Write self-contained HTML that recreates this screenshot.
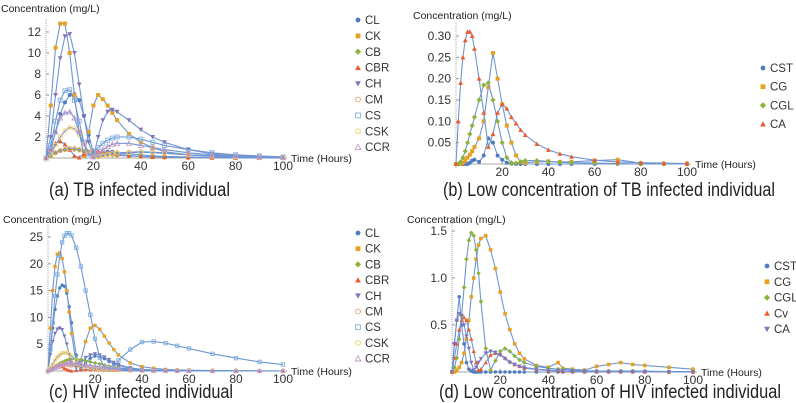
<!DOCTYPE html>
<html><head><meta charset="utf-8"><style>
html,body{margin:0;padding:0;background:#fff;}
svg{display:block;font-family:"Liberation Sans",sans-serif;}
.tick{font-size:12px;fill:#333;}
.axt{font-size:10.5px;fill:#222;}
.leg{font-size:11.5px;fill:#333;}
.cap{font-size:19px;fill:#222;}
</style></head><body>
<svg id="fig" width="796" height="403" viewBox="0 0 796 403"></svg>
<script>
// ---------- Panel (a) data ----------
const aTimes=[0,2,4,6,8,10,12,14,16,18,20,22,24,26,28,30,35,40,45,50,60,70,80,90,100];
const aCL=[0,0.8,2.5,4.2,5.3,6,6.1,5.5,4,2.2,0.5,0.3,0.5,0.6,0.6,0.5,0.4,0.3,0.2,0.15,0.1,0.05,0.03,0.02,0.01];
const aCK=[0,5,10.5,12.8,12.8,10,6,2.5,0.2,2.5,5,6,5.6,5,4.3,3.6,2.3,1.5,1,0.6,0.3,0.15,0.08,0.05,0.03];
const aCB=[0,0.2,0.5,0.7,0.8,0.8,0.8,0.75,0.65,0.55,0.45,0.4,0.35,0.3,0.28,0.25,0.2,0.15,0.1,0.08,0.05,0.03,0.02,0.01,0.01];
const aCBR=[0,0.7,1.4,1.6,1.3,0.8,0.2,0.05,0.4,0.6,0.7,0.65,0.55,0.45,0.4,0.35,0.25,0.15,0.1,0.08,0.05,0.03,0.02,0.01,0.01];
const aCH=[0,2,6,9.5,11.6,11.8,10,7,4,1.5,0.1,2,3.6,4.4,4.6,4.4,3.6,2.7,2,1.5,0.8,0.4,0.2,0.12,0.08];
const aCM=[0,0.2,0.5,0.7,0.8,0.9,0.9,0.8,0.6,0.4,0.3,0.25,0.3,0.4,0.45,0.5,0.55,0.6,0.55,0.5,0.3,0.2,0.1,0.05,0.03];
const aCS=[0,1.2,3.5,5.5,6.4,6.5,5.5,3.5,1.5,0.2,0.5,1,1.4,1.7,1.9,2,2,1.8,1.5,1.2,0.8,0.5,0.3,0.2,0.1];
const aCSK=[0,0.4,1.2,2,2.6,2.9,2.8,2.2,1.3,0.6,0.1,0.1,0.2,0.3,0.4,0.45,0.5,0.55,0.5,0.45,0.3,0.2,0.1,0.05,0.03];
const aCCR=[0,0.8,2.5,3.8,4.3,4.4,3.8,2.5,1.3,0.4,0.1,0.4,0.8,1.1,1.3,1.4,1.4,1.2,1,0.8,0.5,0.3,0.2,0.1,0.05];
const aYTicks=[2,4,6,8,10,12];
const xTicks=[20,40,60,80,100];
// ---------- Panel (b) data ----------
const bTimes=[0,1,2,3,4,5,6,7,8,10,12,14,16,18,20,22,24,26,28,30,35,40,45,50,60,70,80,90,100];
const bCST=[0,0,0,0,0,0,0.003,0.008,0.01,0.005,0.02,0.06,0.05,0.02,0.01,0.003,0.001,0,0,0,0,0,0,0,0,0,0,0,0];
const bCG=[0,0,0,0.003,0.008,0.015,0.022,0.03,0.04,0.06,0.1,0.18,0.26,0.2,0.14,0.09,0.05,0.02,0.005,0.003,0.005,0.006,0.005,0.005,0.008,0.01,0.002,0.001,0.001];
const bCGL=[0,0,0.005,0.015,0.03,0.05,0.07,0.09,0.11,0.15,0.185,0.19,0.15,0.1,0.05,0.015,0.003,0.002,0.005,0.008,0.008,0.006,0.004,0.003,0.002,0.001,0,0,0];
const bCA=[0,0.1,0.19,0.25,0.29,0.31,0.31,0.3,0.27,0.2,0.12,0.04,0.07,0.12,0.14,0.13,0.11,0.095,0.08,0.068,0.047,0.033,0.024,0.017,0.009,0.005,0.003,0.002,0.001];
const bYTicks=[0.05,0.10,0.15,0.20,0.25,0.30];
const bYLabels=["0.05","0.10","0.15","0.20","0.25","0.30"];
// ---------- Panel (c) data ----------
const cTimes=[0,1,2,3,4,5,6,7,8,9,10,12,14,16,18,20,22,24,26,28,30,35,40,45,50,55,60,70,80,90,100];
const cCL=[0,4,8,11.5,14,15.5,16,15.8,14.5,12,9,3,0.5,1.5,2.4,2.8,2.7,2.3,1.8,1.3,1,0.5,0.3,0.2,0.1,0.05,0.03,0.02,0.01,0,0];
const cCK=[0,8,15,19.5,21.8,22,21,18.5,15,11,7,1.5,2,5.5,8,8.5,7.8,6.5,5.2,4,3,1.5,0.8,0.5,0.3,0.2,0.15,0.1,0.05,0.03,0.02];
const cCB=[0,0.2,0.5,0.8,1.1,1.4,1.6,1.8,2,2.1,2.2,2.2,2.1,1.9,1.7,1.5,1.3,1.1,0.9,0.75,0.6,0.35,0.2,0.1,0.05,0.03,0.02,0.01,0,0,0];
const cCBR=[0,0.4,0.7,0.9,1,1,0.8,0.5,0.3,0.1,0.02,0.1,0.2,0.3,0.3,0.28,0.25,0.2,0.15,0.12,0.1,0.05,0.03,0.02,0.01,0,0,0,0,0,0];
const cCH=[0,3,5.5,7,7.8,8,7.7,6.5,5,3,1.5,0.5,1.5,2.5,3,3.2,3,2.6,2.1,1.6,1.2,0.6,0.3,0.15,0.1,0.05,0.03,0.02,0.01,0,0];
const cCM=[0,0.3,0.6,0.8,1,1.1,1.2,1.2,1.2,1.1,1,0.9,0.8,0.7,0.6,0.5,0.45,0.4,0.35,0.3,0.25,0.15,0.1,0.05,0.03,0.02,0.01,0,0,0,0];
const cCS=[0,4,9,14,18,21.5,24,25.2,25.7,25.7,25.3,23,19.5,15,10.5,6,2.5,0.5,0.3,0.8,2,4,5.4,5.5,5.2,4.7,4.2,3.2,2.4,1.7,1.2];
const cCSK=[0,0.6,1.3,2,2.6,3,3.3,3.4,3.4,3.2,2.8,2,1.2,0.8,0.6,0.5,0.4,0.35,0.3,0.25,0.2,0.1,0.05,0.03,0.02,0.01,0,0,0,0,0];
const cCCR=[0,0.2,0.4,0.6,0.8,1,1.2,1.3,1.4,1.5,1.5,1.4,1.3,1.1,1,0.9,0.8,0.7,0.6,0.5,0.4,0.25,0.15,0.1,0.05,0.03,0.02,0.01,0,0,0];
const cYTicks=[5,10,15,20,25];
// ---------- Panel (d) data ----------
const dTimes=[0,1,2,3,4,5,6,7,8,9,10,11,12,14,16,18,20,22,24,26,28,30,35,40,44,46,50,55,60,65,70,75,80,90,100];
const dCST=[0,0.3,0.55,0.8,0.5,0.3,0.1,0.03,0.01,0,0,0,0,0,0,0,0,0,0,0,0,0,0,0,0,0,0,0,0,0,0,0,0,0,0];
const dCG=[0,0,0.02,0.05,0.1,0.2,0.35,0.55,0.8,1.0,1.2,1.35,1.42,1.45,1.3,1.1,0.85,0.62,0.45,0.3,0.2,0.14,0.07,0.05,0.1,0.04,0.03,0.02,0.06,0.08,0.1,0.08,0.07,0.05,0.03];
const dCGL=[0,0.05,0.15,0.35,0.6,0.9,1.2,1.4,1.48,1.45,1.3,1.05,0.75,0.25,0.02,0.12,0.22,0.25,0.22,0.17,0.13,0.1,0.06,0.04,0.03,0.03,0.02,0.015,0.01,0.01,0.01,0.01,0.01,0.005,0.005];
const dCv=[0,0.15,0.3,0.45,0.55,0.58,0.55,0.45,0.35,0.22,0.1,0.02,0.03,0.1,0.18,0.2,0.19,0.15,0.11,0.08,0.06,0.04,0.025,0.015,0.012,0.01,0.01,0.008,0.006,0.005,0.004,0.003,0.002,0.001,0.001];
const dCA=[0,0.3,0.55,0.62,0.6,0.5,0.38,0.25,0.1,0.02,0.05,0.1,0.14,0.2,0.22,0.21,0.18,0.14,0.1,0.08,0.06,0.05,0.03,0.02,0.015,0.012,0.01,0.008,0.006,0.005,0.004,0.003,0.002,0.001,0.001];
const dYTicks=[0.5,1.0,1.5];
const dYLabels=["0.5","1.0","1.5"];

const NS="http://www.w3.org/2000/svg";
const svg=document.getElementById('fig');
const LINE="#6e95d2";
function mk(tag,attrs,parent){const e=document.createElementNS(NS,tag);for(const k in attrs)e.setAttribute(k,attrs[k]);(parent||svg).appendChild(e);return e;}

function marker(g,shape,color,x,y,s){
  let e;
  const open=shape.startsWith('o');const sh=open?shape.slice(1):shape;
  const fill=open?'none':color, stroke=open?color:'none';
  if(sh==='c')e=mk('circle',{cx:x,cy:y,r:s},g);
  else if(sh==='s')e=mk('rect',{x:x-s,y:y-s,width:2*s,height:2*s},g);
  else if(sh==='d')e=mk('polygon',{points:`${x},${y-s*1.3} ${x+s*1.3},${y} ${x},${y+s*1.3} ${x-s*1.3},${y}`},g);
  else if(sh==='u')e=mk('polygon',{points:`${x},${y-s*1.2} ${x+s*1.2},${y+s} ${x-s*1.2},${y+s}`},g);
  else e=mk('polygon',{points:`${x},${y+s*1.2} ${x+s*1.2},${y-s} ${x-s*1.2},${y-s}`},g);
  e.setAttribute('fill',fill);e.setAttribute('stroke',stroke);e.setAttribute('stroke-width','0.9');
  return e;
}

function panel(cfg){
  const g=mk('g',{});
  
  
  const xs=t=>cfg.x0+(t/100)*(cfg.x1-cfg.x0);
  const ys=v=>cfg.y0-(v/cfg.ymax)*(cfg.y0-cfg.yTop);
  const xa=mk('line',{x1:cfg.x0,y1:cfg.y0,x2:cfg.x1+4,y2:cfg.y0,stroke:'#aaa','stroke-width':1},g);
  
  
  const ya=mk('line',{x1:cfg.x0,y1:cfg.y0+4,x2:cfg.x0,y2:cfg.yTop-14,stroke:'#aaa','stroke-width':1,'stroke-dasharray':'1,1'},g);
  
  
  cfg.yTicks.forEach((v,i)=>{
    const y=ys(v);
    mk('line',{x1:cfg.x0,y1:y,x2:cfg.x0+3,y2:y,stroke:'#999'},g);
    const t=mk('text',{x:cfg.x0-5,y:y+4,'text-anchor':'end',class:'tick'},g);
    t.textContent=cfg.yLabels?cfg.yLabels[i]:String(v);
    
    
  });
  xTicks.forEach(v=>{
    const x=xs(v);
    mk('line',{x1:x,y1:cfg.y0,x2:x,y2:cfg.y0-3,stroke:'#999'},g);
    const t=mk('text',{x:x,y:cfg.y0+12,'text-anchor':'middle',class:'tick'},g);
    t.textContent=String(v);
    
    
  });
  const yl=mk('text',{x:cfg.ylx,y:cfg.yly,class:'axt'},g);
  yl.textContent='Concentration (mg/L)';
  
  
  const xl=mk('text',{x:cfg.x1+8,y:cfg.y0+4,class:'axt'},g);
  xl.textContent='Time (Hours)';
  
  
  cfg.series.forEach(s=>{
    const sg=mk('g',{},g);
    
    
    const pts=cfg.times.map((t,i)=>xs(t).toFixed(1)+','+ys(s.vals[i]).toFixed(1)).join(' ');
    const pl=mk('polyline',{points:pts,fill:'none',stroke:LINE,'stroke-width':1.1,'stroke-linejoin':'round'},sg);
    
    
    cfg.times.forEach((t,i)=>{
      const m=marker(sg,s.shape,s.color,xs(t),ys(s.vals[i]),cfg.ms);
      
      
    });
  });
  cfg.series.forEach((s,i)=>{
    const y=cfg.legY+i*cfg.legDy;
    const lg=mk('g',{},g);
    
    
    marker(lg,s.shape,s.color,cfg.legX,y,2.4);
    const t=mk('text',{x:cfg.legX+7,y:y+4,class:'leg'},lg);
    t.textContent=s.label;
  });
  const cap=mk('text',{x:cfg.capX,y:cfg.capY,class:'cap',textLength:cfg.capW,lengthAdjust:'spacingAndGlyphs'},g);
  cap.textContent=cfg.caption;
  
  
}

const C={CL:'#4f7cc0',CK:'#e8a020',CB:'#8db43a',CBR:'#ec5a2c',CH:'#8373b8',CM:'#e0a070',CS:'#7eb0e0',CSK:'#f5d060',CCR:'#c89ac8'};

panel({name:'panel-a',x0:46,x1:283,y0:158,yTop:32,ymax:12,yTicks:aYTicks,times:aTimes,ms:2,
  ylx:1,yly:12,legX:358,legY:20,legDy:15.9,capX:49,capY:196,capW:181,caption:'(a) TB infected individual',
  series:[{label:'CL',vals:aCL,shape:'c',color:C.CL},{label:'CK',vals:aCK,shape:'s',color:C.CK},
   {label:'CB',vals:aCB,shape:'d',color:C.CB},{label:'CBR',vals:aCBR,shape:'u',color:C.CBR},
   {label:'CH',vals:aCH,shape:'v',color:C.CH},{label:'CM',vals:aCM,shape:'oc',color:C.CM},
   {label:'CS',vals:aCS,shape:'os',color:C.CS},{label:'CSK',vals:aCSK,shape:'oc',color:C.CSK},
   {label:'CCR',vals:aCCR,shape:'ou',color:C.CCR}]});

panel({name:'panel-b',x0:456,x1:687,y0:164,yTop:36,ymax:0.30,yTicks:bYTicks,yLabels:bYLabels,times:bTimes,ms:2,
  ylx:413,yly:19,legX:763,legY:68,legDy:18.7,capX:443,capY:196,capW:332,caption:'(b) Low concentration of TB infected individual',
  series:[{label:'CST',vals:bCST,shape:'c',color:C.CL},{label:'CG',vals:bCG,shape:'s',color:C.CK},
   {label:'CGL',vals:bCGL,shape:'d',color:C.CB},{label:'CA',vals:bCA,shape:'u',color:C.CBR}]});

panel({name:'panel-c',x0:48,x1:283,y0:371,yTop:237,ymax:25,yTicks:cYTicks,times:cTimes,ms:1.7,
  ylx:3,yly:223,legX:358,legY:233,legDy:15.7,capX:49,capY:398,capW:184,caption:'(c) HIV infected individual',
  series:[{label:'CL',vals:cCL,shape:'c',color:C.CL},{label:'CK',vals:cCK,shape:'s',color:C.CK},
   {label:'CB',vals:cCB,shape:'d',color:C.CB},{label:'CBR',vals:cCBR,shape:'u',color:C.CBR},
   {label:'CH',vals:cCH,shape:'v',color:C.CH},{label:'CM',vals:cCM,shape:'oc',color:C.CM},
   {label:'CS',vals:cCS,shape:'os',color:C.CS},{label:'CSK',vals:cCSK,shape:'oc',color:C.CSK},
   {label:'CCR',vals:cCCR,shape:'ou',color:C.CCR}]});

panel({name:'panel-d',x0:452,x1:693,y0:372,yTop:231,ymax:1.5,yTicks:dYTicks,yLabels:dYLabels,times:dTimes,ms:1.8,
  ylx:407,yly:223,legX:767,legY:266,legDy:15.8,capX:439,capY:398,capW:342,caption:'(d) Low concentration of HIV infected individual',
  series:[{label:'CST',vals:dCST,shape:'c',color:C.CL},{label:'CG',vals:dCG,shape:'s',color:C.CK},
   {label:'CGL',vals:dCGL,shape:'d',color:C.CB},{label:'Cv',vals:dCv,shape:'u',color:C.CBR},
   {label:'CA',vals:dCA,shape:'v',color:C.CH}]});
</script>
</body></html>
